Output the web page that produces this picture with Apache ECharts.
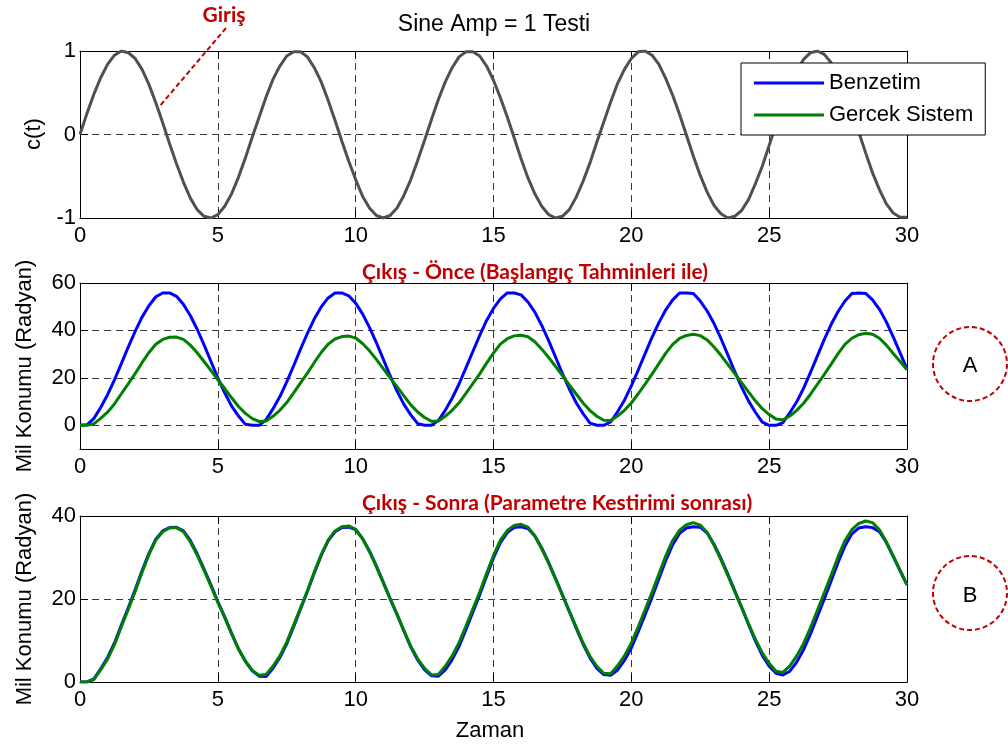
<!DOCTYPE html>
<html>
<head>
<meta charset="utf-8">
<script src="https://cdn.jsdelivr.net/npm/echarts@6/dist/echarts.min.js"></script>
<style>
  html, body { margin: 0; padding: 0; background: #ffffff; }
  #chart { width: 1008px; height: 747px; }
</style>
</head>
<body>
<div id="chart"></div>
<script>
// Sample times (s), 0.25 s step
const time = [
  0, 0.25, 0.5, 0.75, 1, 1.25, 1.5, 1.75, 2, 2.25,
  2.5, 2.75, 3, 3.25, 3.5, 3.75, 4, 4.25, 4.5, 4.75,
  5, 5.25, 5.5, 5.75, 6, 6.25, 6.5, 6.75, 7, 7.25,
  7.5, 7.75, 8, 8.25, 8.5, 8.75, 9, 9.25, 9.5, 9.75,
  10, 10.25, 10.5, 10.75, 11, 11.25, 11.5, 11.75, 12, 12.25,
  12.5, 12.75, 13, 13.25, 13.5, 13.75, 14, 14.25, 14.5, 14.75,
  15, 15.25, 15.5, 15.75, 16, 16.25, 16.5, 16.75, 17, 17.25,
  17.5, 17.75, 18, 18.25, 18.5, 18.75, 19, 19.25, 19.5, 19.75,
  20, 20.25, 20.5, 20.75, 21, 21.25, 21.5, 21.75, 22, 22.25,
  22.5, 22.75, 23, 23.25, 23.5, 23.75, 24, 24.25, 24.5, 24.75,
  25, 25.25, 25.5, 25.75, 26, 26.25, 26.5, 26.75, 27, 27.25,
  27.5, 27.75, 28, 28.25, 28.5, 28.75, 29, 29.25, 29.5, 29.75,
  30
];

// Input signal c(t)
const girisSinyali = [
  0, 0.25, 0.48, 0.68, 0.84, 0.95, 1.00, 0.98, 0.91, 0.78,
  0.60, 0.38, 0.14, -0.11, -0.35, -0.57, -0.76, -0.90, -0.98, -1.00,
  -0.96, -0.86, -0.71, -0.51, -0.28, -0.03, 0.21, 0.45, 0.66, 0.82,
  0.94, 0.99, 0.99, 0.93, 0.80, 0.63, 0.41, 0.17, -0.08, -0.32,
  -0.54, -0.74, -0.88, -0.97, -1.00, -0.97, -0.88, -0.73, -0.54, -0.31,
  -0.07, 0.18, 0.42, 0.63, 0.80, 0.93, 0.99, 0.99, 0.94, 0.82,
  0.65, 0.44, 0.21, -0.04, -0.29, -0.52, -0.71, -0.86, -0.96, -1.00,
  -0.98, -0.90, -0.75, -0.56, -0.34, -0.09, 0.15, 0.39, 0.61, 0.78,
  0.91, 0.99, 1.00, 0.95, 0.84, 0.67, 0.47, 0.24, -0.01, -0.26,
  -0.49, -0.69, -0.85, -0.95, -1.00, -0.98, -0.91, -0.78, -0.59, -0.38,
  -0.13, 0.12, 0.36, 0.58, 0.76, 0.90, 0.98, 1.00, 0.96, 0.86,
  0.70, 0.50, 0.27, 0.03, -0.22, -0.46, -0.66, -0.83, -0.94, -0.99,
  -0.99
];

// Simulation output before parameter estimation (initial guesses)
const benzetimOnce = [
  0, 0.2, 2.8, 7.5, 12.9, 19.2, 26.0, 33.0, 39.6, 45.6,
  50.4, 54.2, 55.8, 55.8, 54.4, 51.0, 46.3, 40.5, 33.9, 26.9,
  20.0, 13.7, 8.1, 3.9, 0.4, 0, 0, 2.4, 6.9, 12.1,
  18.3, 25.1, 32.1, 38.8, 44.9, 49.9, 53.7, 55.8, 55.8, 54.6,
  51.5, 47.0, 41.3, 34.9, 27.9, 20.9, 14.4, 8.8, 4.4, 0.7,
  0, 0, 2.0, 6.3, 11.4, 17.4, 24.2, 31.1, 37.9, 44.2,
  49.3, 53.3, 55.8, 55.8, 55.0, 52.0, 47.7, 42.1, 35.7, 28.8,
  21.8, 15.3, 9.5, 4.9, 0.9, 0, 0, 1.4, 5.7, 10.6,
  16.6, 23.3, 30.2, 37.1, 43.3, 48.7, 52.9, 55.8, 55.8, 55.6,
  52.4, 48.2, 42.9, 36.6, 29.7, 22.7, 16.1, 10.3, 5.5, 1.3,
  0, 0, 1.1, 5.3, 9.9, 15.7, 22.3, 29.3, 36.2, 42.6,
  48.0, 52.4, 55.6, 55.8, 55.6, 52.9, 48.9, 43.6, 37.3, 30.5,
  23.7
];

// Measured response of the real system
const gercekSistem = [
  0, 0, 0.6, 2.9, 5.5, 9.0, 13.3, 17.5, 21.8, 26.4,
  30.7, 34.2, 36.2, 37.1, 37.2, 36.2, 33.8, 30.6, 26.9, 23.1,
  19.2, 15.5, 11.6, 7.9, 5.0, 2.8, 1.6, 1.8, 3.8, 6.3,
  9.6, 13.7, 17.9, 22.0, 26.5, 30.7, 34.2, 36.4, 37.4, 37.6,
  36.8, 34.5, 31.4, 27.8, 23.9, 20.0, 16.3, 12.4, 8.6, 5.6,
  3.3, 1.7, 1.8, 3.8, 6.3, 9.5, 13.5, 17.6, 21.7, 26.2,
  30.5, 34.2, 36.5, 37.7, 38.0, 37.3, 35.2, 32.1, 28.6, 24.8,
  20.9, 17.0, 13.2, 9.4, 6.2, 3.8, 2.1, 2.0, 3.9, 6.3,
  9.4, 13.3, 17.4, 21.6, 26.0, 30.4, 34.1, 36.6, 37.9, 38.4,
  37.8, 36.0, 33.0, 29.5, 25.7, 21.8, 18.0, 14.1, 10.3, 7.0,
  4.5, 2.6, 2.3, 3.9, 6.3, 9.3, 13.1, 17.3, 21.5, 25.8,
  30.2, 34.1, 36.7, 38.2, 38.8, 38.4, 36.7, 33.8, 30.3, 26.9,
  23.4
];

// Simulation output after parameter estimation
const benzetimSonra = [
  0, 0, 0.7, 3.2, 5.9, 9.4, 13.7, 17.9, 22.2, 26.8,
  31.0, 34.4, 36.4, 37.2, 37.3, 36.4, 34.1, 30.9, 27.2, 23.4,
  19.4, 15.7, 11.7, 8.0, 5.0, 2.7, 1.4, 1.3, 3.3, 5.9,
  9.2, 13.3, 17.6, 21.8, 26.3, 30.5, 34.0, 36.2, 37.2, 37.3,
  36.7, 34.6, 31.6, 28.0, 24.1, 20.1, 16.3, 12.3, 8.4, 5.3,
  2.9, 1.5, 1.4, 2.9, 5.4, 8.6, 12.6, 16.8, 21.0, 25.5,
  29.9, 33.6, 36.0, 37.2, 37.4, 37.0, 35.2, 32.3, 28.8, 25.0,
  21.0, 17.0, 13.0, 9.1, 5.8, 3.3, 1.8, 1.6, 2.9, 5.2,
  8.2, 12.1, 16.2, 20.4, 24.9, 29.3, 33.1, 35.8, 37.1, 37.4,
  37.3, 35.9, 33.2, 29.8, 26.0, 22.0, 18.0, 13.9, 9.9, 6.4,
  3.8, 2.1, 1.7, 2.6, 4.8, 7.8, 11.6, 15.8, 20.0, 24.4,
  28.8, 32.8, 35.7, 37.1, 37.4, 37.2, 36.2, 33.6, 30.3, 26.8,
  23.4
];

// Tick positions
const xTicks = [0, 5, 10, 15, 20, 25, 30];
const yTicksGiris = [-1, 0, 1];
const yTicksOnce = [0, 20, 40, 60];
const yTicksSonra = [0, 20, 40];

const FONT = '"Liberation Sans", Arial, sans-serif';
const RED_FONT = 'Lato, "Open Sans", sans-serif';
const FS = 22;
const RED = '#c00000';
const BLUE = '#0000ff';
const GREEN = '#007f00';

const pairs = (ys) => time.map((t, i) => [t, ys[i]]);

const grids = [
  { left: 80, top: 51, width: 827, height: 167 },
  { left: 80, top: 283, width: 827, height: 166 },
  { left: 80, top: 516, width: 827, height: 166 }
];

const dashed = { show: true, lineStyle: { color: '#3a3a3a', width: 1, type: [7, 5] } };
const frame = { show: true, onZero: false, lineStyle: { color: '#000', width: 1 } };

function bottomX(gi) {
  return {
    type: 'value', gridIndex: gi, min: 0, max: 30,
    axisLine: frame,
    axisTick: { show: true, inside: true, length: 8, customValues: xTicks, lineStyle: { color: '#000' } },
    axisLabel: { show: true, customValues: xTicks, margin: 7, color: '#000', fontSize: FS, fontFamily: FONT,
                 showMinLabel: true, showMaxLabel: true },
    splitLine: dashed
  };
}
function topX(gi) {
  return {
    type: 'value', gridIndex: gi, min: 0, max: 30, position: 'top',
    axisLine: frame,
    axisTick: { show: true, inside: true, length: 8, customValues: xTicks, lineStyle: { color: '#000' } },
    axisLabel: { show: false }, splitLine: { show: false }
  };
}
function leftY(gi, min, max, ticks) {
  return {
    type: 'value', gridIndex: gi, min, max,
    axisLine: frame,
    axisTick: { show: true, inside: true, length: 8, customValues: ticks, lineStyle: { color: '#000' } },
    axisLabel: { show: true, customValues: ticks, margin: 4, color: '#000', fontSize: FS, fontFamily: FONT,
                 showMinLabel: true, showMaxLabel: true },
    splitLine: dashed
  };
}
function rightY(gi, min, max, ticks) {
  return {
    type: 'value', gridIndex: gi, min, max, position: 'right',
    axisLine: frame,
    axisTick: { show: true, inside: true, length: 8, customValues: ticks, lineStyle: { color: '#000' } },
    axisLabel: { show: false }, splitLine: { show: false }
  };
}

function line(name, xi, yi, ys, color) {
  return {
    name, type: 'line', xAxisIndex: xi, yAxisIndex: yi, data: pairs(ys),
    showSymbol: false, symbol: 'none', smooth: false, animation: false,
    lineStyle: { color, width: 3 }, itemStyle: { color }, z: 3
  };
}

const chart = echarts.init(document.getElementById('chart'), null, { renderer: 'canvas' });

chart.setOption({
  animation: false,
  backgroundColor: '#ffffff',
  grid: grids.map(g => Object.assign({ containLabel: false, outerBoundsMode: 'none' }, g)),
  xAxis: [bottomX(0), bottomX(1), bottomX(2), topX(0), topX(1), topX(2)],
  yAxis: [
    leftY(0, -1, 1, yTicksGiris), leftY(1, -10, 60, yTicksOnce), leftY(2, 0, 40, yTicksSonra),
    rightY(0, -1, 1, yTicksGiris), rightY(1, -10, 60, yTicksOnce), rightY(2, 0, 40, yTicksSonra)
  ],
  legend: {
    show: true, selectedMode: false, orient: 'vertical',
    left: 741, top: 63,
    data: [
      { name: 'Benzetim', icon: 'rect' },
      { name: 'Gercek Sistem', icon: 'rect' }
    ],
    itemWidth: 70, itemHeight: 3, itemGap: 10,
    padding: [9, 12, 9, 13],
    backgroundColor: '#ffffff', borderColor: '#000', borderWidth: 1,
    textStyle: { fontSize: FS, fontFamily: FONT, color: '#000', lineHeight: 22 }
  },
  series: [
    line('c(t)', 0, 0, girisSinyali, '#505050'),
    line('Benzetim', 1, 1, benzetimOnce, BLUE),
    line('Gercek Sistem', 1, 1, gercekSistem, GREEN),
    line('Benzetim', 2, 2, benzetimSonra, BLUE),
    line('Gercek Sistem', 2, 2, gercekSistem, GREEN)
  ],
  graphic: [
    { type: 'text', x: 494, y: 25, style: { text: 'Sine Amp = 1 Testi', font: '23px ' + FONT, fill: '#000', textAlign: 'center', textVerticalAlign: 'middle' } },
    { type: 'text', x: 224, y: 15, style: { text: 'Giriş', font: 'bold 21px ' + RED_FONT, fill: RED, textAlign: 'center', textVerticalAlign: 'middle' } },
    { type: 'line', shape: { x1: 226, y1: 28, x2: 159, y2: 107 }, style: { stroke: RED, lineWidth: 2, lineDash: [5, 3] }, z: 10 },
    { type: 'text', x: 362, y: 272, style: { text: 'Çıkış - Önce (Başlangıç Tahminleri ile)', font: 'bold 21px ' + RED_FONT, fill: RED, textAlign: 'left', textVerticalAlign: 'middle' } },
    { type: 'text', x: 362, y: 503, style: { text: 'Çıkış - Sonra (Parametre Kestirimi sonrası)', font: 'bold 21px ' + RED_FONT, fill: RED, textAlign: 'left', textVerticalAlign: 'middle' } },
    { type: 'text', x: 490, y: 731, style: { text: 'Zaman', font: FS + 'px ' + FONT, fill: '#000', textAlign: 'center', textVerticalAlign: 'middle' } },
    { type: 'text', x: 34, y: 134, rotation: Math.PI / 2, style: { text: 'c(t)', font: FS + 'px ' + FONT, fill: '#000', textAlign: 'center', textVerticalAlign: 'middle' } },
    { type: 'text', x: 25, y: 366, rotation: Math.PI / 2, style: { text: 'Mil Konumu (Radyan)', font: FS + 'px ' + FONT, fill: '#000', textAlign: 'center', textVerticalAlign: 'middle' } },
    { type: 'text', x: 25, y: 599, rotation: Math.PI / 2, style: { text: 'Mil Konumu (Radyan)', font: FS + 'px ' + FONT, fill: '#000', textAlign: 'center', textVerticalAlign: 'middle' } },
    { type: 'circle', shape: { cx: 970, cy: 364, r: 37 }, style: { fill: 'none', stroke: RED, lineWidth: 2, lineDash: [5, 3] } },
    { type: 'text', x: 970, y: 366, style: { text: 'A', font: FS + 'px ' + FONT, fill: '#000', textAlign: 'center', textVerticalAlign: 'middle' } },
    { type: 'circle', shape: { cx: 970, cy: 593, r: 37 }, style: { fill: 'none', stroke: RED, lineWidth: 2, lineDash: [5, 3] } },
    { type: 'text', x: 970, y: 596, style: { text: 'B', font: FS + 'px ' + FONT, fill: '#000', textAlign: 'center', textVerticalAlign: 'middle' } }
  ]
});
</script>
</body>
</html>
